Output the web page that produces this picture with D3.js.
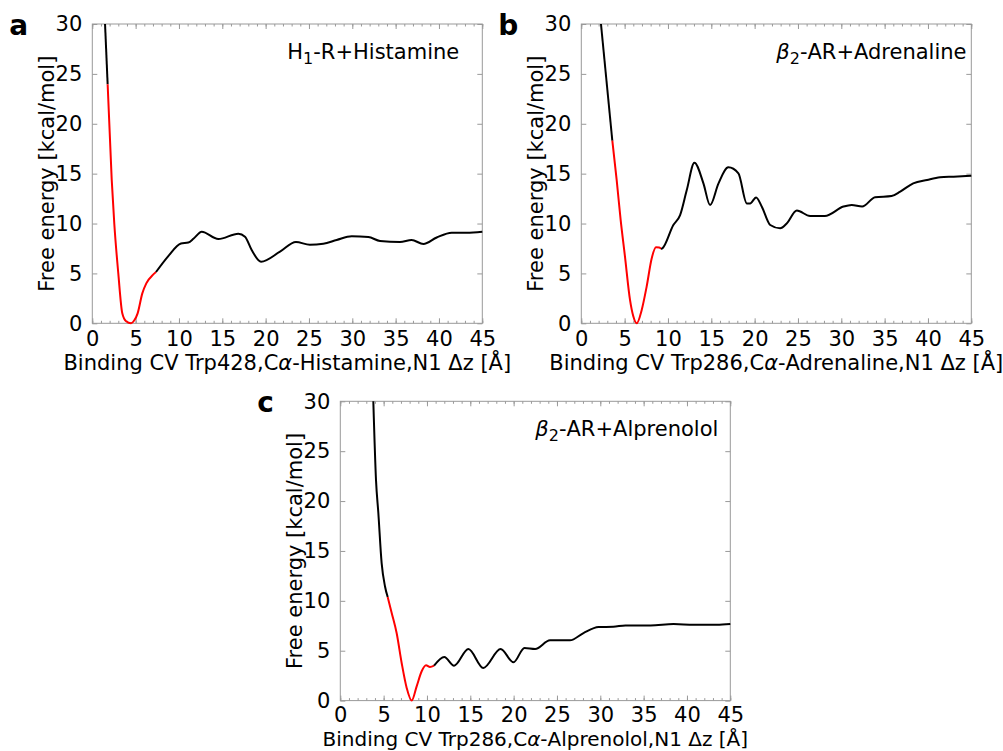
<!DOCTYPE html>
<html>
<head>
<meta charset="utf-8">
<script src="https://cdn.jsdelivr.net/npm/d3@7"></script>
<style>
  body { margin: 0; background: #fff; }
  svg { font-family: "DejaVu Sans", sans-serif; }
</style>
</head>
<body>
<svg id="chart" width="1003" height="751"></svg>
<script>
// tick values shared by all three panels
const xTicks = [0, 5, 10, 15, 20, 25, 30, 35, 40, 45];
const xMinorTicks = d3.range(0, 46, 1);
const yTicks = [0, 5, 10, 15, 20, 25, 30];

// a: H1-R + Histamine
const histX = [1.47, 1.77, 2.24, 2.54, 3.0, 3.46, 3.9, 4.47, 4.85, 5.23, 5.77, 6.23, 7.04, 7.35,
  8.77, 10.23, 11.08, 11.7, 12.62, 14.54, 16.85, 17.62, 18.39, 19.47, 21.66, 23.5, 25.1, 26.65,
  28.2, 29.93, 31.85, 33.2, 35.5, 36.85, 38.2, 39.74, 41.47, 43.2, 45];
const histG = [30, 23.96, 14.4, 9.95, 5.0, 1.0, 0.2, 0, 0.3, 1.0, 3.0, 4.0, 4.9, 5.14,
  6.74, 8.0, 8.1, 8.5, 9.18, 8.45, 8.98, 8.68, 7.34, 6.17, 7.18, 8.15, 7.88, 7.98,
  8.35, 8.72, 8.65, 8.25, 8.15, 8.35, 7.95, 8.6, 9.08, 9.08, 9.18];
const histRed = [1.77, 7.35];

// b: beta2-AR + Adrenaline
const adrenX = [2.27, 3.58, 4.08, 4.54, 5.04, 5.62, 6.0, 6.39, 6.97, 7.54, 8.12, 8.62, 9.0, 9.2,
  9.35, 10.62, 11.4, 12.17, 13.05, 14.09, 14.86, 15.82, 16.97, 18.13, 19.1, 19.48, 20.17, 20.83,
  21.8, 22.94, 23.7, 24.87, 26.4, 28.1, 30.25, 31.2, 32.4, 33.9, 35.8, 36.8, 38.3, 39.9, 41.4,
  42.96, 45];
const adrenG = [30, 18.3, 14.37, 10.36, 6.68, 2.34, 0.7, 0, 1.34, 3.68, 6.5, 7.62, 7.6, 7.45,
  7.51, 9.85, 10.85, 13.36, 16.1, 14.03, 11.85, 14.0, 15.63, 15.03, 12.02, 12.02, 12.62, 11.69,
  9.85, 9.52, 10.0, 11.3, 10.76, 10.76, 11.7, 11.86, 11.7, 12.63, 12.76, 13.2, 14.03, 14.37, 14.63,
  14.7, 14.8];
const adrenRed = [3.58, 9.2];

// c: beta2-AR + Alprenolol
const alprX = [3.81, 4.12, 4.39, 4.77, 5.16, 5.47, 5.93, 6.5, 7.08, 7.66, 8.24, 8.81, 9.39, 9.89,
  10.35, 10.82, 12.0, 13.13, 14.78, 16.5, 18.5, 19.98, 21.25, 22.48, 24.2, 26.5, 28.06, 29.8,
  31.5, 32.9, 35.8, 38.45, 40.8, 43.45, 45];
const alprG = [30, 22.1, 18.8, 13.78, 11.44, 10.38, 8.78, 6.77, 3.77, 1.27, 0, 1.43, 2.94, 3.54,
  3.37, 3.5, 4.37, 3.5, 5.17, 3.27, 5.17, 3.84, 5.27, 5.17, 6.04, 6.04, 6.77, 7.37,
  7.4, 7.54, 7.54, 7.67, 7.6, 7.6, 7.67];
const alprRed = [5.47, 10.82];

const svg = d3.select('#chart');
const plotW = 390, plotH = 299.3;
const frameColor = '#999';

function drawPanel(left, top, letter, xs, gs, red, xLabel, annotation, opts) {
    const g = svg.append('g').attr('transform', `translate(${left}, ${top})`);

    const x = d3.scaleLinear().domain([0, 45]).range([0, plotW]);
    const y = d3.scaleLinear().domain([0, 30]).range([plotH, 0]);

    const pts = xs.map((v, i) => ({ x: v, g: gs[i] }));

    // inward ticks on all four sides, gnuplot style
    const axes = [
        [d3.axisBottom(x).tickValues(xTicks).tickSize(-5).tickPadding(opts.tickPad), `translate(0, ${plotH})`],
        [d3.axisBottom(x).tickValues(xMinorTicks).tickSize(-2.5).tickFormat(''), `translate(0, ${plotH})`],
        [d3.axisTop(x).tickValues(xTicks).tickSize(-5).tickFormat(''), null],
        [d3.axisTop(x).tickValues(xMinorTicks).tickSize(-2.5).tickFormat(''), null],
        [d3.axisLeft(y).tickValues(yTicks).tickSize(-5).tickPadding(10), null],
        [d3.axisRight(y).tickValues(yTicks).tickSize(-5).tickFormat(''), `translate(${plotW}, 0)`]
    ];
    for (const [axis, tr] of axes) {
        const a = g.append('g').call(axis);
        if (tr) a.attr('transform', tr);
        a.select('.domain').remove();
        a.selectAll('line').attr('stroke', frameColor);
        a.selectAll('text')
            .attr('fill', '#000')
            .style('font-family', '"DejaVu Sans", sans-serif')
            .style('font-size', '21px');
    }

    g.append('rect')
        .attr('width', plotW)
        .attr('height', plotH)
        .attr('fill', 'none')
        .attr('stroke', frameColor)
        .attr('stroke-width', 1);

    const line = d3.line()
        .x(d => x(d.x))
        .y(d => y(d.g))
        .curve(d3.curveMonotoneX);

    const segments = [
        [pts.filter(d => d.x <= red[0]), '#000'],
        [pts.filter(d => d.x >= red[0] && d.x <= red[1]), '#ff0000'],
        [pts.filter(d => d.x >= red[1]), '#000']
    ];
    for (const [seg, color] of segments) {
        g.append('path')
            .datum(seg)
            .attr('d', line)
            .attr('fill', 'none')
            .attr('stroke', color)
            .attr('stroke-width', 2);
    }

    // annotation in the top right corner
    const ann = g.append('text')
        .attr('x', x(22.5))
        .attr('y', y(26.5))
        .style('font-size', '21px');
    annotation(ann);

    // x-axis label
    const xl = g.append('text')
        .attr('x', plotW / 2)
        .attr('y', plotH + opts.labelGap)
        .style('text-anchor', 'middle')
        .style('font-size', opts.labelSize + 'px');
    xLabel(xl);

    // y-axis label
    g.append('text')
        .attr('transform', `translate(-38, ${plotH / 2}) rotate(-90)`)
        .style('text-anchor', 'middle')
        .style('font-size', '21px')
        .text('Free energy [kcal/mol]');

    // panel letter
    g.append('text')
        .attr('x', -83)
        .attr('y', 11)
        .style('font-size', '28px')
        .style('font-weight', 'bold')
        .text(letter);
}

function cvLabel(trp, ligand) {
    return t => {
        t.append('tspan').text(`Binding CV ${trp},C`);
        t.append('tspan').style('font-style', 'italic').text('α');
        t.append('tspan').text(`-${ligand},N1 Δz [Å]`);
    };
}

function receptorLabel(prefix, italic, rest) {
    return t => {
        t.append('tspan').style('font-style', italic ? 'italic' : 'normal').text(prefix);
        t.append('tspan').attr('dy', 5).style('font-size', '16px').text(italic ? '2' : '1');
        t.append('tspan').attr('dy', -5).text(rest);
    };
}

const topRow = { tickPad: 8, labelGap: 47, labelSize: 21 };
drawPanel(92.3, 24, 'a', histX, histG, histRed,
    cvLabel('Trp428', 'Histamine'), receptorLabel('H', false, '-R+Histamine'), topRow);
drawPanel(581.3, 24, 'b', adrenX, adrenG, adrenRed,
    cvLabel('Trp286', 'Adrenaline'), receptorLabel('β', true, '-AR+Adrenaline'), topRow);
// bottom panel's label runs into the page edge, squeeze it a little so it fits
drawPanel(340.3, 401.3, 'c', alprX, alprG, alprRed,
    cvLabel('Trp286', 'Alprenolol'), receptorLabel('β', true, '-AR+Alprenolol'),
    { tickPad: 6, labelGap: 45, labelSize: 20 });
</script>
</body>
</html>
